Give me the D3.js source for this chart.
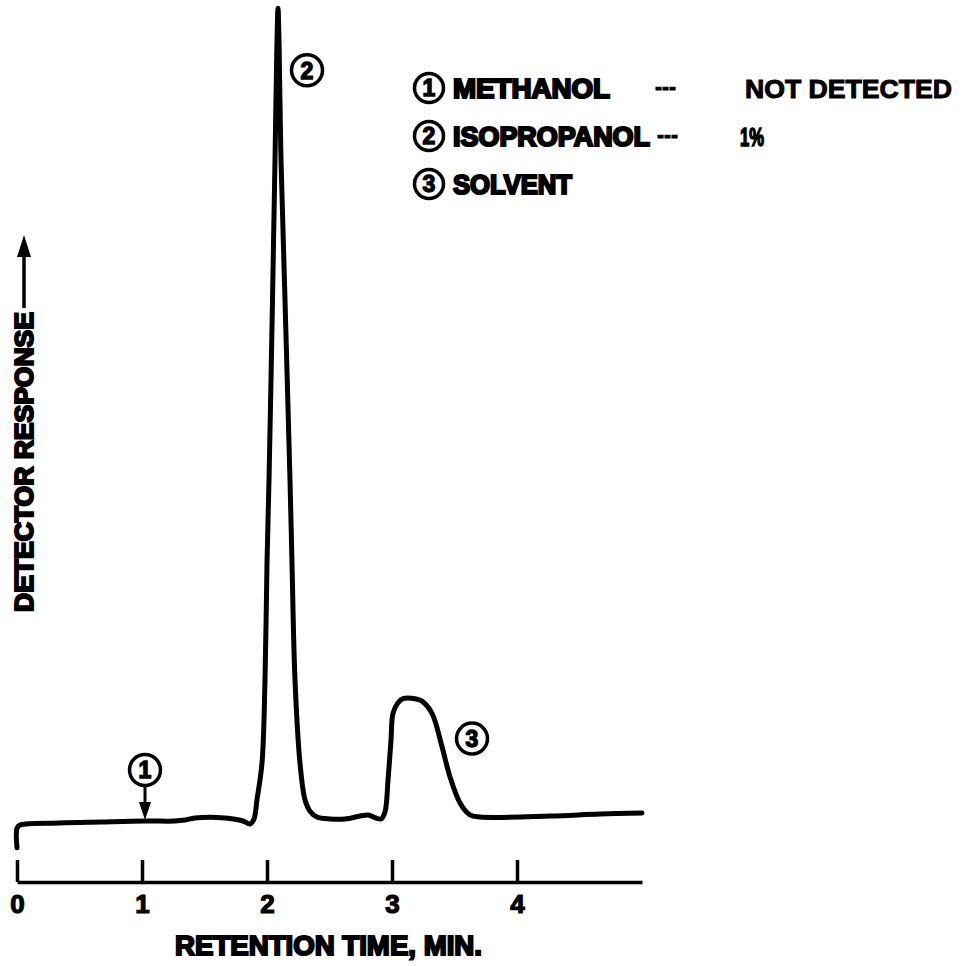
<!DOCTYPE html>
<html>
<head>
<meta charset="utf-8">
<script src="https://cdn.jsdelivr.net/npm/d3@7"></script>
<style>
  body { margin: 0; background: #fff; }
  svg text { font-family: "Liberation Sans", Arial, sans-serif; font-weight: bold; fill: #000; }
</style>
</head>
<body>
<svg id="chart" width="968" height="966"></svg>
<script>
// retention time (min) and detector response (arbitrary units)
var timeMin = [0, 0, 0.024, 0.344, 0.664, 1.024, 1.264, 1.344, 1.424, 1.664, 1.808, 1.864, 1.896, 1.92,
	1.96, 1.984, 2.0, 2.016, 2.044, 2.064, 2.08, 2.088, 2.096, 2.112, 2.144, 2.184, 2.2, 2.224,
	2.264, 2.304, 2.344, 2.4, 2.504, 2.624, 2.744, 2.808, 2.872, 2.912, 2.944, 2.968, 2.992,
	3.008, 3.048, 3.088, 3.184, 3.24, 3.32, 3.4, 3.464, 3.544, 3.624, 3.704, 4.264, 4.664, 5.0];
var response = [-2.8, -0.4, 0, 0.25, 0.37, 0.49, 0.49, 0.61, 0.86, 0.86, 0.49, 0.12, 0.74, 3.1,
	7.6, 17.8, 32.1, 42.3, 64.4, 81.6, 96.3, 100.2, 96.3, 81.6, 64.4, 42.3, 32.1, 17.8,
	7.6, 3.1, 1.7, 0.98, 0.74, 0.74, 1.1, 1.23, 0.86, 0.74, 1.6, 5.5, 10.4,
	13.7, 15.0, 15.5, 15.5, 15.2, 13.7, 9.6, 5.9, 2.7, 1.23, 0.98, 1.1, 1.35, 1.47];

var xTicks = [0, 1, 2, 3, 4];

// circled peak numbers on the trace
var peakIds = ["1", "2", "3"];
var peakLabelTime = [1.024, 2.32, 3.64];
var peakLabelResp = [6.75, 92.6, 10.6];

// legend
var legendIds = ["1", "2", "3"];
var legendNames = ["METHANOL", "ISOPROPANOL", "SOLVENT"];
var legendResults = ["NOT DETECTED", "1%", ""];

var svg = d3.select("#chart");

var x = d3.scaleLinear().domain([0, 5]).range([17, 642]);
var y = d3.scaleLinear().domain([0, 100]).range([825, 10]);

// x axis
var xAxis = d3.axisBottom(x)
	.tickValues(xTicks)
	.tickFormat(d3.format("d"))
	.tickSizeInner(-22)
	.tickSizeOuter(0)
	.tickPadding(13);

var gx = svg.append("g")
	.attr("transform", "translate(0,882)")
	.call(xAxis);
gx.select(".domain").attr("stroke", "#000").attr("stroke-width", 3.5);
gx.selectAll(".tick line").attr("stroke", "#000").attr("stroke-width", 3.5);
gx.selectAll(".tick text")
	.attr("font-family", "Liberation Sans, Arial, sans-serif")
	.attr("font-weight", "bold")
	.attr("font-size", 26)
	.attr("fill", "#000")
	.attr("stroke", "#000")
	.attr("stroke-width", 1.2);

svg.append("text")
	.attr("x", 175)
	.attr("y", 955)
	.attr("font-size", 27)
	.attr("textLength", 307)
	.attr("lengthAdjust", "spacingAndGlyphs")
	.attr("stroke", "#000")
	.attr("stroke-width", 2)
	.text("RETENTION TIME, MIN.");

// y axis label with arrow
svg.append("text")
	.attr("transform", "translate(33,612) rotate(-90)")
	.attr("font-size", 25)
	.attr("textLength", 300)
	.attr("lengthAdjust", "spacingAndGlyphs")
	.attr("stroke", "#000")
	.attr("stroke-width", 2)
	.text("DETECTOR RESPONSE");

svg.append("line")
	.attr("x1", 24).attr("x2", 24)
	.attr("y1", 308).attr("y2", 250)
	.attr("stroke", "#000")
	.attr("stroke-width", 3.5);
svg.append("path")
	.attr("d", "M24,235 L31,257 L17,257 Z")
	.attr("fill", "#000");

// chromatogram trace
var line = d3.line()
	.x(function (d) { return x(d[0]); })
	.y(function (d) { return y(d[1]); })
	.curve(d3.curveCatmullRom.alpha(0.5));

svg.append("path")
	.datum(d3.zip(timeMin, response))
	.attr("d", line)
	.attr("fill", "none")
	.attr("stroke", "#000")
	.attr("stroke-width", 5)
	.attr("stroke-linejoin", "round")
	.attr("stroke-linecap", "round");

// circled peak labels
var peaks = svg.selectAll(".peak")
	.data(peakIds)
	.enter()
  .append("g")
	.attr("class", "peak")
	.attr("transform", function (d, i) {
		return "translate(" + x(peakLabelTime[i]) + "," + y(peakLabelResp[i]) + ")";
	});
peaks.append("circle")
	.attr("r", 15.5)
	.attr("fill", "#fff")
	.attr("stroke", "#000")
	.attr("stroke-width", 3.5);
peaks.append("text")
	.attr("text-anchor", "middle")
	.attr("dy", "0.36em")
	.attr("font-size", 23)
	.attr("stroke", "#000")
	.attr("stroke-width", 1.4)
	.text(function (d) { return d; });

// methanol arrow
svg.append("line")
	.attr("x1", x(peakLabelTime[0])).attr("x2", x(peakLabelTime[0]))
	.attr("y1", y(peakLabelResp[0]) + 16).attr("y2", y(0.5) - 14)
	.attr("stroke", "#000")
	.attr("stroke-width", 3);
svg.append("path")
	.attr("d", function () {
		var cx = x(peakLabelTime[0]), tip = y(0.5) - 1;
		return "M" + cx + "," + tip + " L" + (cx - 6) + "," + (tip - 18) + " L" + (cx + 6) + "," + (tip - 18) + " Z";
	})
	.attr("fill", "#000");

// legend
var legendX = 429, legendY0 = 88, legendStep = 48;
var nameLen = [157, 197, 119];
var resultX = [745, 740, 0];
var resultLen = [207, 24, 0];
var dashX = [655, 657, 0];

var rows = svg.selectAll(".legend")
	.data(legendIds)
	.enter()
  .append("g")
	.attr("class", "legend")
	.attr("transform", function (d, i) {
		return "translate(" + legendX + "," + (legendY0 + i * legendStep) + ")";
	});
rows.append("circle")
	.attr("r", 14.5)
	.attr("fill", "#fff")
	.attr("stroke", "#000")
	.attr("stroke-width", 3.5);
rows.append("text")
	.attr("text-anchor", "middle")
	.attr("dy", "0.36em")
	.attr("font-size", 23)
	.attr("stroke", "#000")
	.attr("stroke-width", 1.4)
	.text(function (d) { return d; });
rows.append("text")
	.attr("x", 24)
	.attr("y", 10)
	.attr("font-size", 27)
	.attr("textLength", function (d, i) { return nameLen[i]; })
	.attr("lengthAdjust", "spacingAndGlyphs")
	.attr("stroke", "#000")
	.attr("stroke-width", 2.2)
	.text(function (d, i) { return legendNames[i]; });
rows.filter(function (d, i) { return legendResults[i] !== ""; })
	.append("text")
	.attr("x", function (d, i) { return dashX[i] - legendX; })
	.attr("y", 7)
	.attr("font-size", 24)
	.attr("textLength", 21)
	.attr("lengthAdjust", "spacingAndGlyphs")
	.attr("stroke", "#000")
	.attr("stroke-width", 0.8)
	.text("---");
rows.filter(function (d, i) { return legendResults[i] !== ""; })
	.append("text")
	.attr("x", function (d, i) { return resultX[i] - legendX; })
	.attr("y", 10)
	.attr("font-size", 26)
	.attr("textLength", function (d, i) { return resultLen[i]; })
	.attr("lengthAdjust", "spacingAndGlyphs")
	.attr("font-weight", function (d, i) { return i === 0 ? "normal" : "bold"; })
	.attr("stroke", "#000")
	.attr("stroke-width", function (d, i) { return i === 0 ? 1 : 1.6; })
	.text(function (d, i) { return legendResults[i]; });
</script>
</body>
</html>
